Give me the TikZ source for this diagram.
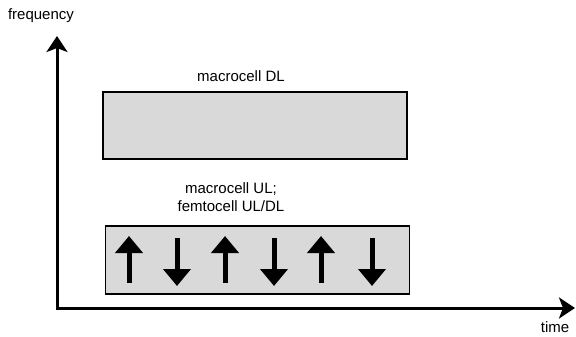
\documentclass[tikz,border=0pt]{standalone}
\usepackage{fontspec}
\setmainfont{Liberation Sans}
\usetikzlibrary{arrows.meta}
\begin{document}
\begin{tikzpicture}[x=1pt,y=-1pt,
  band/.style={draw=black,line width=1.2pt,fill=black!15},
  axis/.style={line width=3pt,-{Stealth[width=21pt,length=16pt,inset=4pt]}},
  dirarrow/.style={line width=5pt,-{Triangle[width=27pt,length=17pt]}},
  lbl/.style={font=\fontsize{15}{17}\selectfont,inner sep=0pt,align=center}]
\useasboundingbox (0,0) rectangle (576,337);
% axes
\coordinate (origin) at (57,308);
\coordinate (ytip) at (57,36);
\coordinate (xtip) at (575,308);
\draw[axis] (origin) -- (ytip);
\draw[axis] ([xshift=-1.5pt]origin) -- (xtip);
\node[lbl] (freq) at (41,16) {frequency};
\node[lbl] (time) at (555,327) {time};
% bands
\node[band,minimum width=304pt,minimum height=67pt,inner sep=0pt] (dl) at (255,125.5) {};
\node[band,minimum width=304pt,minimum height=68pt,inner sep=0pt] (ul) at (257.5,260) {};
\node[lbl] (dllbl) at (241,76) {macrocell DL};
\node[lbl] (ullbl) at (231,197) {macrocell UL;\\[1pt]femtocell UL/DL};
% UL/DL arrows
\foreach \i/\x in {1/129,3/225,5/321}{
  \coordinate (ua\i) at (\x,283);
  \coordinate (ub\i) at (\x,236);
  \draw[dirarrow] (ua\i) -- (ub\i);
}
\foreach \i/\x in {2/177,4/274,6/372}{
  \coordinate (da\i) at (\x,238);
  \coordinate (db\i) at (\x,286);
  \draw[dirarrow] (da\i) -- (db\i);
}
\end{tikzpicture}
\end{document}
